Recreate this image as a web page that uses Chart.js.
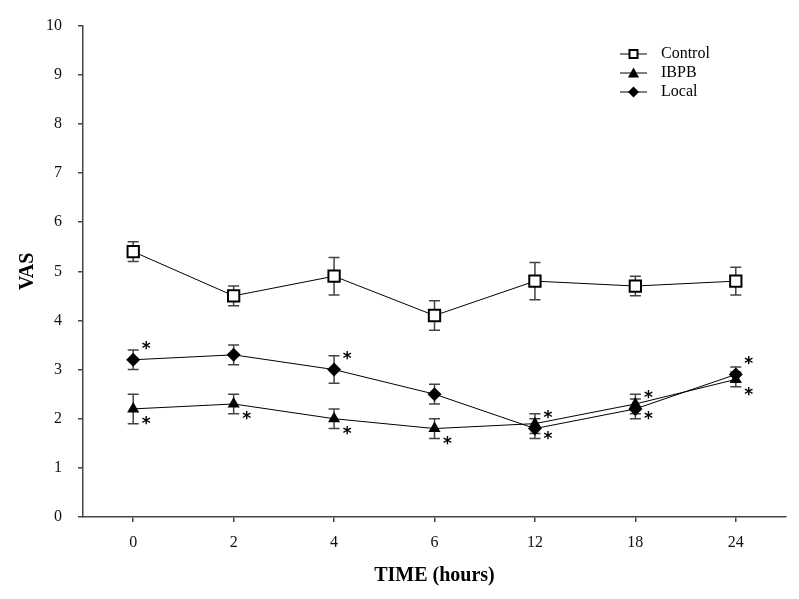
<!DOCTYPE html>
<html>
<head>
<meta charset="utf-8">
<script src="https://cdn.jsdelivr.net/npm/chart.js@4"></script>
<style>
  html, body { margin: 0; padding: 0; background: #fff; }
  #wrap { width: 799px; height: 599px; }
</style>
</head>
<body>
<div id="wrap"><canvas id="vasChart" width="799" height="599"></canvas></div>
<script>
// Time points (hours) and VAS means / SE
const timeLabels = ['0', '2', '4', '6', '12', '18', '24'];

const controlMean = [5.4, 4.5, 4.9, 4.1, 4.8, 4.7, 4.8];
const controlErr  = [0.2, 0.2, 0.38, 0.3, 0.38, 0.2, 0.28];

const ibpbMean = [2.2, 2.3, 2.0, 1.8, 1.9, 2.3, 2.8];
const ibpbErr  = [0.3, 0.2, 0.2, 0.2, 0.2, 0.2, 0.15];

const localMean = [3.2, 3.3, 3.0, 2.5, 1.8, 2.2, 2.9];
const localErr  = [0.2, 0.2, 0.28, 0.2, 0.2, 0.2, 0.15];

// significance markers (1 = asterisk)
const ibpbSig  = [1, 1, 1, 1, 1, 1, 1];
const localSig = [1, 0, 1, 0, 1, 1, 1];

const serif = '"Liberation Serif", "Times New Roman", serif';

// error bars drawn under the markers
const errorBars = {
    id: 'errorBars',
    beforeDatasetsDraw(chart) {
        const ctx = chart.ctx;
        const y = chart.scales.y;
        ctx.save();
        ctx.strokeStyle = '#444';
        ctx.lineWidth = 1.5;
        chart.data.datasets.forEach((ds, i) => {
            const meta = chart.getDatasetMeta(i);
            meta.data.forEach((pt, j) => {
                const e = ds.errors[j];
                const top = y.getPixelForValue(ds.data[j] + e);
                const bot = y.getPixelForValue(ds.data[j] - e);
                ctx.beginPath();
                ctx.moveTo(pt.x, top); ctx.lineTo(pt.x, bot);
                ctx.moveTo(pt.x - 5.5, top); ctx.lineTo(pt.x + 5.5, top);
                ctx.moveTo(pt.x - 5.5, bot); ctx.lineTo(pt.x + 5.5, bot);
                ctx.stroke();
            });
        });
        ctx.restore();
    }
};

// asterisks beside significant points
const asterisks = {
    id: 'asterisks',
    afterDatasetsDraw(chart) {
        const ctx = chart.ctx;
        ctx.save();
        ctx.fillStyle = '#000';
        ctx.font = 'bold 17px "DejaVu Sans", sans-serif';
        ctx.textAlign = 'center';
        ctx.textBaseline = 'middle';
        chart.data.datasets.forEach((ds, i) => {
            if (!ds.sig) return;
            const meta = chart.getDatasetMeta(i);
            meta.data.forEach((pt, j) => {
                if (!ds.sig[j]) return;
                ctx.fillText('*', pt.x + 13, pt.y + ds.sigDy + 3);
            });
        });
        ctx.restore();
    }
};

function drawMarker(ctx, style, x, y, r) {
    ctx.beginPath();
    if (style === 'rect') {
        ctx.fillStyle = '#fff';
        ctx.rect(x - r, y - r, 2 * r, 2 * r);
        ctx.fill();
        ctx.lineWidth = 2;
        ctx.stroke();
        return;
    }
    if (style === 'triangle') {
        ctx.moveTo(x, y - r);
        ctx.lineTo(x + r, y + r * 0.8);
        ctx.lineTo(x - r, y + r * 0.8);
    } else {
        ctx.moveTo(x, y - r);
        ctx.lineTo(x + r, y);
        ctx.lineTo(x, y + r);
        ctx.lineTo(x - r, y);
    }
    ctx.closePath();
    ctx.fillStyle = '#000';
    ctx.fill();
}

// legend in the upper right corner of the plot
const cornerLegend = {
    id: 'cornerLegend',
    afterDraw(chart) {
        const ctx = chart.ctx;
        ctx.save();
        ctx.font = '16px ' + serif;
        ctx.textBaseline = 'middle';
        ctx.strokeStyle = '#000';
        chart.data.datasets.forEach((ds, i) => {
            const yy = 54 + i * 19;
            ctx.lineWidth = 1;
            ctx.beginPath();
            ctx.moveTo(620, yy); ctx.lineTo(647, yy);
            ctx.stroke();
            drawMarker(ctx, ds.pointStyle, 633.5, yy, ds.pointStyle === 'rect' ? 4 : 5.5);
            ctx.fillStyle = '#000';
            ctx.fillText(ds.label, 661, yy);
        });
        ctx.restore();
    }
};

new Chart(document.getElementById('vasChart'), {
    type: 'line',
    data: {
        labels: timeLabels,
        datasets: [
            {
                label: 'Control',
                data: controlMean,
                errors: controlErr,
                borderColor: '#000',
                borderWidth: 1,
                pointStyle: 'rect',
                pointRadius: 8,
                pointBorderWidth: 2,
                pointBackgroundColor: '#fff',
                pointBorderColor: '#000',
                order: 2
            },
            {
                label: 'IBPB',
                data: ibpbMean,
                errors: ibpbErr,
                sig: ibpbSig,
                sigDy: 13,
                borderColor: '#000',
                borderWidth: 1,
                pointStyle: 'triangle',
                pointRadius: 7,
                pointBorderWidth: 0,
                pointBackgroundColor: '#000',
                pointBorderColor: '#000',
                order: 1
            },
            {
                label: 'Local',
                data: localMean,
                errors: localErr,
                sig: localSig,
                sigDy: -13,
                borderColor: '#000',
                borderWidth: 1,
                pointStyle: 'rectRot',
                pointRadius: 7,
                pointBorderWidth: 0,
                pointBackgroundColor: '#000',
                pointBorderColor: '#000',
                order: 0
            }
        ]
    },
    options: {
        responsive: false,
        animation: false,
        layout: { padding: { left: 0, right: 13, top: 20, bottom: 0 } },
        plugins: {
            legend: { display: false },
            tooltip: { enabled: false }
        },
        scales: {
            x: {
                type: 'category',
                offset: true,
                afterFit: s => { s.height = 82; },
                grid: {
                    drawOnChartArea: false,
                    drawTicks: true,
                    tickLength: 5,
                    color: '#444',
                    lineWidth: 1.5
                },
                border: { color: '#444', width: 1.5 },
                ticks: {
                    color: '#111',
                    padding: 11,
                    font: { family: serif, size: 16 }
                },
                title: {
                    display: true,
                    text: 'TIME (hours)',
                    color: '#000',
                    padding: { top: 0, bottom: 11 },
                    font: { family: serif, size: 20, weight: 'bold' }
                }
            },
            y: {
                min: 0,
                max: 10,
                afterFit: s => { s.width = 83; },
                grid: {
                    drawOnChartArea: false,
                    drawTicks: true,
                    tickLength: 5,
                    color: '#444',
                    lineWidth: 1.5
                },
                border: { color: '#444', width: 1.5 },
                ticks: {
                    stepSize: 1,
                    color: '#111',
                    padding: 16,
                    font: { family: serif, size: 16 }
                },
                title: {
                    display: true,
                    text: 'VAS',
                    color: '#000',
                    padding: { top: 16, bottom: 0 },
                    font: { family: serif, size: 20, weight: 'bold' }
                }
            }
        }
    },
    plugins: [errorBars, asterisks, cornerLegend]
});
</script>
</body>
</html>
